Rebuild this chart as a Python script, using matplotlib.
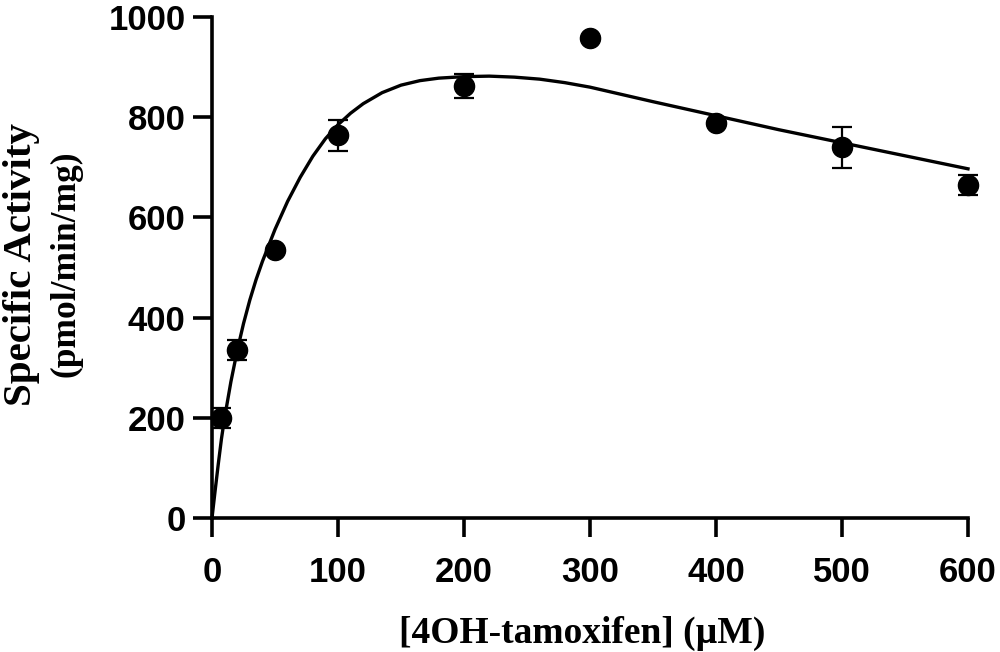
import numpy as np
import matplotlib
matplotlib.use("Agg")
import matplotlib.pyplot as plt

# measured points (mean +/- SD)
conc = [7.5, 20, 50, 100, 200, 300, 400, 500, 600]
activity = [199, 335, 535, 764, 863, 958, 788, 740, 665]
sd = [20, 20, 0, 31, 24, 0, 0, 41, 20]

# fitted curve
curve_x = [0, 2.5, 5, 7.5, 10, 15, 20, 25, 30, 35, 40, 50, 60, 70, 80, 90, 100,
           110, 120, 135, 150, 165, 180, 200, 220, 240, 260, 280, 300, 350, 400,
           450, 500, 550, 600]
curve_y = [0, 55, 108, 158, 200, 272, 334, 388, 435, 476, 512, 576, 632, 680,
           722, 757, 785, 808, 827, 849, 864, 873, 878, 881, 882, 880, 876, 869,
           860, 831, 803, 775, 749, 723, 697]

fig = plt.figure(figsize=(10, 6.52), dpi=100)
ax = fig.add_axes([0.212, 0.2055, 0.756, 0.7684])

ax.plot(curve_x, curve_y, color="black", lw=2.4, clip_on=False, zorder=2,
        solid_joinstyle="round")

mask = np.array(sd) > 0
ax.errorbar(np.array(conc)[mask], np.array(activity)[mask], yerr=np.array(sd)[mask],
            fmt="none", ecolor="black", elinewidth=1.6, capsize=7, capthick=1.6,
            clip_on=False, zorder=3)
ax.plot(conc, activity, "o", color="black", ms=14.5, clip_on=False, zorder=4)

ax.set_xlim(0, 600)
ax.set_ylim(0, 1000)
ax.set_xticks([0, 100, 200, 300, 400, 500, 600])
ax.set_yticks([0, 200, 400, 600, 800, 1000])

for s in ["top", "right"]:
    ax.spines[s].set_visible(False)
for s in ["left", "bottom"]:
    ax.spines[s].set_linewidth(2.6)

ax.tick_params(axis="both", direction="out", length=14, width=2.6)
ax.tick_params(axis="y", pad=5)
ax.tick_params(axis="x", pad=13)
for lab in ax.get_xticklabels() + ax.get_yticklabels():
    lab.set_fontfamily("Liberation Sans")
    lab.set_fontweight("bold")
    lab.set_fontsize(25)

fig.text(0.022, 0.594, "Specific Activity", rotation=90, ha="center", va="center",
         family="Liberation Serif", weight="bold", fontsize=29.5)
fig.text(0.066, 0.595, "(pmol/min/mg)", rotation=90, ha="center", va="center",
         family="Liberation Serif", weight="bold", fontsize=25.5)
fig.text(0.582, 0.028, "[4OH-tamoxifen] (\u00b5M)", ha="center", va="center",
         family="Liberation Serif", weight="bold", fontsize=27)

fig.savefig("out.png", dpi=100)
